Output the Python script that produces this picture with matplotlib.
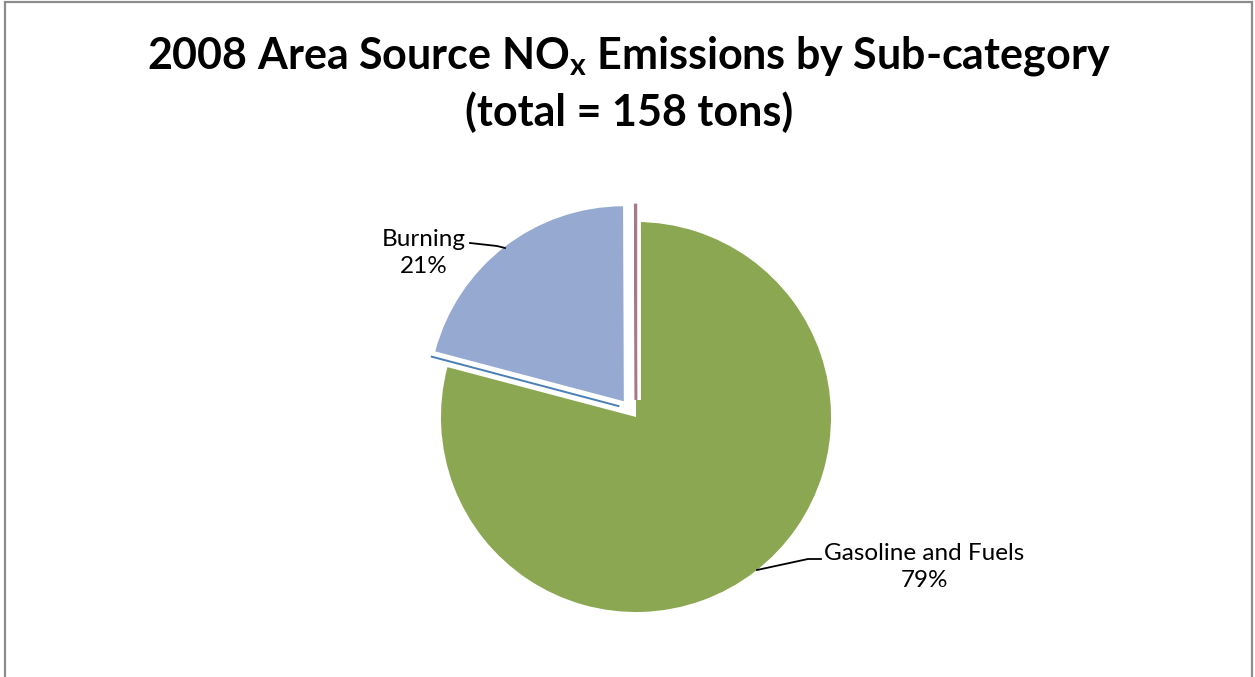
import math
import matplotlib
matplotlib.use("Agg")
import matplotlib.pyplot as plt
from matplotlib.patches import Rectangle
import matplotlib.patheffects as pe

# Emissions by sub-category (tons)
categories = ["Gasoline and Fuels", "Burning", "Other"]
tons = [125.0, 32.9, 0.1]
colors = ["#8CA752", "#95A9D1", "#A8788A"]
edge_colors = [None, "#4A80B5", None]
explode_frac = [0.0, 0.102, 0.088]
show_label = [True, True, False]

total = sum(tons)

plt.rcParams["font.family"] = ["Lato", "DejaVu Sans"]
plt.rcParams["mathtext.fontset"] = "custom"
plt.rcParams["mathtext.rm"] = "Lato"
plt.rcParams["mathtext.bf"] = "Lato:bold"

W, H = 1255, 677
fig = plt.figure(figsize=(W / 100, H / 100), dpi=100)
ax = fig.add_axes([0, 0, 1, 1])

# chart frame
fig.patches.append(Rectangle((5 / W, -0.01), (1252 - 5) / W, 1.0 - 1.5 / H + 0.01,
                             transform=fig.transFigure, fill=False,
                             edgecolor="#8C8C8C", linewidth=1.6))

cx, cy, r = 636, H - 417, 195
wedges, _ = ax.pie(tons, colors=colors, explode=[e * r for e in explode_frac],
                   startangle=90, counterclock=False, center=(cx, cy), radius=r,
                   wedgeprops=dict(linewidth=0), frame=True)
ax.set_xlim(0, W)
ax.set_ylim(0, H)
ax.set_aspect("equal")
ax.axis("off")

# the near-zero slice shows only as its outline
wedges[2].set_edgecolor(colors[2])
wedges[2].set_linewidth(1.8)
wedges[2].set_path_effects([pe.Stroke(linewidth=7, foreground="white"), pe.Normal()])

# thin outline shadow under the exploded slice's lower edge
for w, ec in zip(wedges, edge_colors):
    if ec is None:
        continue
    wx, wy = w.center
    a = math.radians(max(w.theta1, w.theta2))
    n = a + math.pi / 2
    off = 6
    ox, oy = off * math.cos(n), off * math.sin(n)
    x0, y0 = wx + ox + 3 * math.cos(a), wy + oy + 3 * math.sin(a)
    x1, y1 = wx + ox + (w.r + 3) * math.cos(a), wy + oy + (w.r + 3) * math.sin(a)
    ax.plot([x0, x1], [y0, y1], color=ec, linewidth=1.4, solid_capstyle="butt")

# data labels with leader lines
label_pos = {0: (924, H - 567), 1: (424, H - 253)}
leaders = {0: [(757, H - 570), (808, H - 559), (821, H - 559)],
           1: [(470, H - 243), (497, H - 246), (505, H - 248)]}
for i, name in enumerate(categories):
    if not show_label[i]:
        continue
    pct = round(100 * tons[i] / total)
    x, y = label_pos[i]
    ax.text(x, y, f"{name}\n{pct}%", ha="center", va="center",
            fontsize=17.5, color="black", linespacing=1.3)
    xs, ys = zip(*leaders[i])
    ax.plot(xs, ys, color="black", linewidth=1.3)

fig.text(629 / W, 1 - 56 / H,
         r"2008 Area Source NO$_{\mathbf{x}}$ Emissions by Sub-category",
         ha="center", va="center", fontsize=31, fontweight="bold")
fig.text(629 / W, 1 - 112 / H, f"(total = {total:.0f} tons)",
         ha="center", va="center", fontsize=31, fontweight="bold")

fig.savefig("out.png", dpi=100, facecolor="white")
